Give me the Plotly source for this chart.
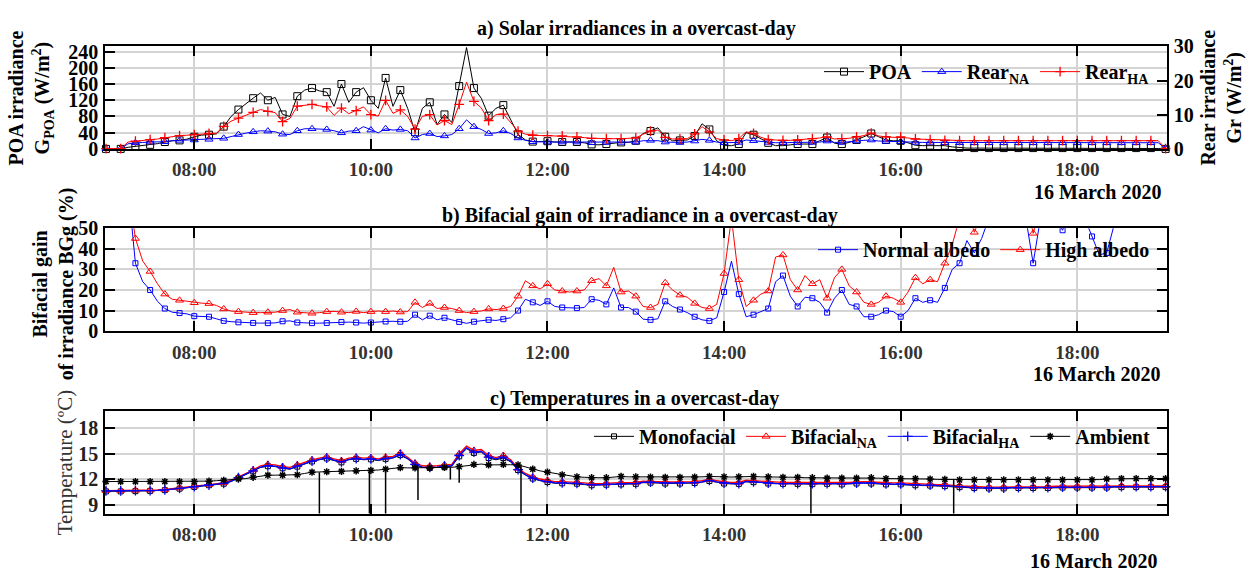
import pandas as pd
import plotly.graph_objects as go

# ---------------- data (5-min samples, 07:00 .. 19:00, 16 March 2020) ----------------
times = pd.date_range("2020-03-16 07:00", "2020-03-16 19:00", freq="5min")

poa = [0, 0, 0, 4, 6, 8, 10, 13, 17, 20, 21, 24,
       30, 34, 35, 37, 55, 80, 97, 112, 125, 138, 120, 127,
       85, 80, 130, 145, 150, 143, 140, 105, 160, 115, 140, 151,
       120, 100, 175, 105, 145, 100, 41, 100, 115, 60, 85, 65,
       155, 250, 150, 125, 82, 100, 108, 72, 36, 22, 18, 18,
       19, 17, 17, 17, 17, 15, 11, 10, 12, 15, 16, 16,
       20, 38, 44, 52, 30, 20, 21, 22, 32, 62, 48, 20,
       8, 8, 12, 40, 35, 24, 15, 8, 8, 10, 12, 12,
       12, 20, 28, 14, 12, 16, 22, 30, 38, 30, 22, 20,
       20, 15, 9, 8, 8, 9, 8, 5, 3, 2, 2, 2,
       2, 2, 2, 2, 2, 2, 2, 2, 2, 2, 2, 2,
       2, 2, 2, 2, 2, 2, 2, 2, 2, 2, 2, 1,
       0]

rear_na = [0.1, 0.1, 0.1, 1.5, 1.8, 1.9, 2.0, 2.0, 2.1, 2.4, 2.5, 2.5,
           2.6, 2.7, 2.8, 2.8, 3.1, 3.6, 4.2, 4.6, 5.0, 5.3, 5.2, 5.0,
           4.3, 4.2, 5.3, 5.9, 5.9, 5.9, 5.7, 5.3, 4.7, 5.2, 5.3, 6.5,
           5.5, 4.7, 5.9, 5.5, 5.7, 5.3, 3.2, 4.2, 4.5, 3.6, 3.8, 4.2,
           5.9, 8.5, 6.5, 5.7, 4.5, 4.7, 5.3, 4.5, 3.2, 2.5, 2.1, 2.0,
           2.0, 2.0, 2.0, 2.0, 2.0, 1.9, 1.8, 1.8, 1.9, 1.9, 1.9, 1.9,
           2.0, 2.4, 2.5, 2.4, 2.0, 1.9, 1.9, 2.0, 2.3, 2.8, 2.5, 2.0,
           1.8, 1.8, 1.9, 2.6, 2.4, 2.1, 1.9, 1.8, 1.8, 1.8, 1.8, 1.8,
           1.9, 2.0, 2.3, 1.9, 1.9, 2.0, 2.3, 2.5, 2.6, 2.3, 2.2, 2.1,
           2.1, 2.0, 1.9, 1.9, 1.9, 1.9, 1.8, 1.8, 1.8, 1.8, 1.8, 1.8,
           1.8, 1.8, 1.8, 1.8, 1.8, 1.8, 1.8, 1.8, 1.8, 1.8, 1.8, 1.8,
           1.8, 1.8, 1.8, 1.8, 1.8, 1.8, 1.8, 1.8, 1.8, 1.8, 1.8, 1.8,
           0.1]

rear_ha = [0.1, 0.1, 0.1, 2.0, 2.3, 2.5, 2.7, 2.9, 3.3, 3.7, 3.9, 4.0,
           4.2, 4.4, 4.5, 4.6, 6.6, 8.1, 9.0, 9.8, 10.7, 11.5, 11.0, 10.6,
           8.0, 8.9, 12.5, 12.7, 13.0, 12.6, 12.3, 9.8, 11.9, 10.3, 11.2, 12.3,
           10.0, 9.6, 14.2, 10.4, 11.4, 9.5, 5.8, 9.5, 10.0, 7.0, 8.3, 7.1,
           13.0, 19.5, 13.9, 12.0, 8.3, 10.0, 10.2, 7.7, 5.2, 4.3, 4.0, 3.9,
           3.9, 3.8, 3.8, 3.7, 3.5, 3.3, 3.1, 3.0, 3.0, 3.0, 3.0, 3.0,
           3.2, 4.3, 5.2, 5.5, 3.4, 2.9, 2.9, 3.0, 4.4, 6.5, 5.0, 3.0,
           2.6, 2.4, 3.0, 5.0, 4.5, 3.4, 2.7, 2.5, 2.5, 2.5, 2.6, 2.8,
           3.0, 3.2, 3.5, 2.9, 3.0, 3.1, 3.5, 3.9, 4.6, 3.8, 3.5, 3.4,
           3.5, 3.2, 2.9, 2.8, 2.7, 2.6, 2.5, 2.4, 2.4, 2.4, 2.4, 2.4,
           2.4, 2.4, 2.4, 2.4, 2.4, 2.4, 2.4, 2.4, 2.4, 2.4, 2.4, 2.4,
           2.4, 2.4, 2.4, 2.4, 2.4, 2.4, 2.4, 2.4, 2.4, 2.4, 2.4, 2.4,
           0.1]

bg_normal = [None, None, None, 70, 33, 24, 20, 14.5, 11, 9.2, 8.8, 8.4,
             7.3, 7.1, 7.0, 6.0, 5.0, 4.6, 4.3, 4.0, 4.0, 3.9, 3.9, 4.0,
             4.8, 5.0, 4.2, 3.9, 3.9, 3.9, 4.0, 4.3, 4.4, 4.4, 4.2, 3.9,
             4.2, 4.6, 4.7, 4.8, 4.6, 4.8, 8.0, 5.5, 7.5, 5.5, 6.5, 5.5,
             4.5, 3.8, 4.6, 5.0, 5.5, 5.2, 5.8, 6.5, 10.0, 15.5, 14.0, 12.5,
             14.5, 12.0, 11.5, 11.2, 11.2, 11.5, 15.5, 15.0, 13.0, 21.0, 11.5, 11.5,
             9.5, 5.8, 5.5, 6.0, 14.5, 12.0, 10.5, 9.0, 7.0, 5.5, 5.0, 6.5,
             19.0, 34.0, 18.0, 7.0, 8.0, 9.5, 11.0, 24.0, 27.0, 17.0, 12.0, 16.5,
             16, 14, 9, 16, 20, 13, 12, 7, 7, 8, 10, 9.5,
             7, 10, 16, 14, 15, 14, 21, 30, 33, 44, 38, 45,
             55, 60, 52, 60, 62, 55, 33, 55, 60, 55, 49, 58,
             62, 55, 46, 37, 38, 55, 65, 70, 65, 70, 72, 70,
             70]

bg_high = [None, None, None, 70, 45, 34, 29, 23, 18, 15.5, 15, 14.5,
           13.8, 13.6, 13.4, 12.5, 10.8, 9.8, 9.5, 9.2, 9.0, 9.0, 9.2, 9.2,
           10.0, 10.5, 9.2, 8.8, 8.7, 9.0, 9.5, 9.6, 9.2, 9.0, 9.6, 9.0,
           9.5, 9.8, 9.5, 9.8, 9.3, 9.5, 14.0, 11.5, 13.5, 11.0, 11.5, 11.0,
           10.0, 9.0, 9.5, 9.8, 10.8, 10.5, 11.0, 12.0, 17.0, 24.5, 22.0, 20.5,
           23.0, 20.0, 19.5, 19.0, 19.5, 20.0, 24.5, 25.5, 22.0, 31.0, 19.0, 19.5,
           17.0, 12.0, 11.5, 13.0, 23.5, 20.0, 17.5, 16.5, 13.5, 11.5, 11.0, 13.0,
           28.0, 55.0, 25.0, 12.0, 15.0, 18.0, 19.5, 36.0, 37.0, 25.0, 20.0, 27.0,
           23, 25, 16, 26, 30, 22, 19, 14, 13, 14, 17, 16,
           14, 19, 26, 23, 25, 24, 33, 42, 55, 60, 48, 58,
           65, 70, 62, 68, 72, 65, 47.5, 60, 68, 65, 60, 66,
           70, 65, 58, 55, 56, 65, 75, 80, 75, 80, 82, 80,
           80]

t_bif_na = [10.7, 10.7, 10.7, 10.72, 10.72, 10.75, 10.75, 10.78, 10.82, 10.9, 11.0, 11.1,
            11.2, 11.3, 11.4, 11.5, 11.6, 11.9, 12.3, 12.7, 13.1, 13.6, 13.75, 13.7,
            13.5, 13.4, 13.7, 14.0, 14.3, 14.5, 14.65, 14.4, 14.2, 14.5, 14.6, 14.5,
            14.55, 14.4, 14.6, 14.7, 15.1, 14.6, 13.9, 13.6, 13.55, 13.6, 13.7, 13.75,
            15.0, 15.9, 15.4, 15.5, 14.8, 14.55, 14.8, 14.3, 13.3, 12.7, 12.3, 12.05,
            11.9, 11.75, 11.75, 11.72, 11.7, 11.6, 11.5, 11.5, 11.55, 11.6, 11.6, 11.62,
            11.65, 11.8, 11.8, 11.75, 11.7, 11.7, 11.7, 11.7, 11.75, 11.85, 12.0, 11.85,
            11.7, 11.65, 11.65, 11.9, 11.85, 11.75, 11.7, 11.65, 11.65, 11.65, 11.65, 11.63,
            11.63, 11.65, 11.65, 11.6, 11.6, 11.65, 11.7, 11.75, 11.7, 11.65, 11.6, 11.6,
            11.6, 11.55, 11.5, 11.45, 11.45, 11.4, 11.4, 11.3, 11.25, 11.2, 11.15, 11.12,
            11.1, 11.1, 11.1, 11.15, 11.15, 11.15, 11.15, 11.15, 11.15, 11.2, 11.2, 11.2,
            11.2, 11.2, 11.2, 11.2, 11.2, 11.25, 11.25, 11.25, 11.25, 11.25, 11.25, 11.25,
            11.25]

t_bif_ha = [10.65, 10.65, 10.65, 10.68, 10.68, 10.7, 10.7, 10.73, 10.78, 10.85, 10.95, 11.05,
            11.15, 11.25, 11.35, 11.45, 11.55, 11.8, 12.2, 12.6, 13.0, 13.45, 13.6, 13.55,
            13.35, 13.25, 13.55, 13.85, 14.15, 14.35, 14.5, 14.25, 14.05, 14.35, 14.45, 14.35,
            14.4, 14.25, 14.45, 14.55, 14.9, 14.45, 13.75, 13.45, 13.4, 13.45, 13.55, 13.6,
            14.8, 15.7, 15.2, 15.3, 14.6, 14.4, 14.6, 14.15, 13.15, 12.55, 12.15, 11.9,
            11.75, 11.6, 11.6, 11.58, 11.55, 11.45, 11.38, 11.38, 11.42, 11.48, 11.48, 11.5,
            11.52, 11.68, 11.68, 11.62, 11.58, 11.58, 11.58, 11.58, 11.62, 11.72, 11.88, 11.72,
            11.58, 11.52, 11.52, 11.78, 11.72, 11.62, 11.58, 11.52, 11.52, 11.52, 11.52, 11.5,
            11.5, 11.52, 11.52, 11.48, 11.48, 11.52, 11.58, 11.62, 11.58, 11.52, 11.48, 11.48,
            11.48, 11.42, 11.38, 11.33, 11.33, 11.28, 11.28, 11.2, 11.15, 11.1, 11.05, 11.03,
            11.0, 11.0, 11.0, 11.05, 11.05, 11.05, 11.05, 11.05, 11.05, 11.1, 11.1, 11.1,
            11.1, 11.1, 11.1, 11.1, 11.1, 11.15, 11.15, 11.15, 11.15, 11.15, 11.15, 11.15,
            11.15]

t_mono = [10.6, 10.6, 10.6, 10.62, 10.63, 10.65, 10.66, 10.7, 10.75, 10.82, 10.92, 11.02,
          11.12, 11.22, 11.32, 11.42, 11.5, 11.75, 12.15, 12.55, 12.95, 13.4, 13.55, 13.5,
          13.3, 13.2, 13.5, 13.8, 14.1, 14.3, 14.45, 14.2, 14.0, 14.3, 14.4, 14.3,
          14.35, 14.2, 14.4, 14.5, 14.85, 14.4, 13.7, 13.4, 13.35, 13.4, 13.5, 13.55,
          14.7, 15.6, 15.1, 15.2, 14.5, 14.3, 14.5, 14.05, 13.1, 12.5, 12.1, 11.85,
          11.7, 11.55, 11.55, 11.52, 11.5, 11.4, 11.32, 11.32, 11.38, 11.42, 11.42, 11.45,
          11.48, 11.62, 11.62, 11.58, 11.52, 11.52, 11.52, 11.52, 11.58, 11.68, 11.82, 11.68,
          11.52, 11.48, 11.48, 11.72, 11.68, 11.58, 11.52, 11.48, 11.48, 11.48, 11.48, 11.45,
          11.45, 11.48, 11.48, 11.42, 11.42, 11.48, 11.52, 11.58, 11.52, 11.48, 11.42, 11.42,
          11.42, 11.38, 11.32, 11.28, 11.28, 11.22, 11.22, 11.15, 11.1, 11.05, 11.0, 10.98,
          10.95, 10.95, 10.95, 11.0, 11.0, 11.0, 11.0, 11.0, 11.0, 11.05, 11.05, 11.05,
          11.05, 11.05, 11.05, 11.05, 11.05, 11.1, 11.1, 11.1, 11.1, 11.1, 11.1, 11.1,
          11.1]

t_amb = [11.75, 11.75, 11.75, 11.75, 11.75, 11.75, 11.75, 11.75, 11.75, 11.75, 11.75, 11.75,
         11.75, 11.78, 11.8, 11.85, 11.9, 12.0, 12.05, 12.1, 12.25, 12.4, 12.5, 12.5,
         12.5, 12.5, 12.55, 12.7, 12.85, 12.88, 12.9, 12.92, 12.95, 12.98, 13.0, 13.02,
         13.05, 13.1, 13.2, 13.3, 13.38, 13.35, 13.35, 13.35, 13.35, 13.38, 13.4, 13.42,
         13.5, 13.6, 13.75, 13.8, 13.7, 13.72, 13.75, 13.72, 13.7, 13.45, 13.2, 13.0,
         12.85, 12.7, 12.55, 12.4, 12.3, 12.25, 12.2, 12.2, 12.2, 12.3, 12.35, 12.3,
         12.3, 12.28, 12.28, 12.25, 12.25, 12.25, 12.25, 12.25, 12.28, 12.3, 12.35, 12.3,
         12.3, 12.28, 12.3, 12.35, 12.35, 12.3, 12.3, 12.25, 12.25, 12.25, 12.25, 12.2,
         12.2, 12.2, 12.15, 12.15, 12.15, 12.15, 12.15, 12.2, 12.2, 12.15, 12.1, 12.1,
         12.1, 12.1, 12.1, 12.05, 12.05, 12.0, 12.0, 11.95, 11.95, 11.95, 11.95, 11.95,
         11.95, 11.95, 11.95, 11.95, 11.95, 11.95, 11.95, 11.95, 11.95, 11.95, 11.95, 11.95,
         11.95, 11.95, 11.95, 11.98, 12.05, 12.08, 12.1, 12.1, 12.1, 12.1, 12.1, 12.1,
         12.1]

# short sensor drop-outs of the ambient sensor
amb_drop_times = ["09:25", "09:59", "10:10", "10:32", "10:54", "11:00", "11:42", "14:59", "16:36"]
amb_drop_top = [12.85, 13.05, 13.2, 13.35, 13.4, 13.45, 13.6, 12.2, 11.95]
amb_drop_low = [6.0, 6.0, 6.0, 9.6, 12.0, 11.6, 6.0, 6.0, 6.0]

tick_labels = ["08:00", "10:00", "12:00", "14:00", "16:00", "18:00"]

for arr in (poa, rear_na, rear_ha, bg_normal, bg_high, t_bif_na, t_bif_ha, t_mono, t_amb):
    assert len(arr) == len(times), len(arr)

# ---------------- figure ----------------
W, H = 1247, 584
FONT = "Liberation Serif"
GRID = "#d4d4d4"
X0, X1 = "2020-03-16 06:59:20", "2020-03-16 19:00:57"
tick_vals = ["2020-03-16 " + t for t in tick_labels]


def px(x):
    return x / W


def py(y):
    return 1 - y / H


fig = go.Figure()
tlist = list(times)


def add_series(y, color, symbol, size, xa, ya, lw=1.0, mlw=1.0, clip=False):
    fig.add_trace(go.Scatter(x=tlist, y=y, mode="lines", line=dict(color=color, width=lw),
                             xaxis=xa, yaxis=ya, showlegend=False, hoverinfo="skip"))
    fig.add_trace(go.Scatter(x=tlist[::2], y=y[::2], mode="markers", cliponaxis=clip,
                             marker=dict(symbol=symbol, size=size, color=color,
                                         line=dict(color=color, width=mlw)),
                             xaxis=xa, yaxis=ya, showlegend=False, hoverinfo="skip"))


def add_legend(name, color, symbol, size, xa, ya, legend, lw=1.0, mlw=1.0):
    fig.add_trace(go.Scatter(x=[None], y=[None], mode="lines+markers", name=name,
                             line=dict(color=color, width=lw),
                             marker=dict(symbol=symbol, size=size, color=color,
                                         line=dict(color=color, width=mlw)),
                             xaxis=xa, yaxis=ya, legend=legend))


# panel a
add_series(poa, "black", "square-open", 7, "x", "y")
add_series(rear_na, "blue", "triangle-up-open", 7, "x", "y2")
add_series(rear_ha, "red", "cross-thin", 7, "x", "y2", mlw=1.3)
add_legend("POA", "black", "square-open", 7, "x", "y", "legend")
add_legend("Rear<sub>NA</sub>", "blue", "triangle-up-open", 7, "x", "y2", "legend")
add_legend("Rear<sub>HA</sub>", "red", "cross-thin", 7, "x", "y2", "legend", mlw=1.3)

# panel b
add_series(bg_normal, "blue", "square-open", 5, "x2", "y3", clip=True)
add_series(bg_high, "red", "triangle-up-open", 7, "x2", "y3", clip=True)
add_legend("Normal albedo", "blue", "square-open", 5, "x2", "y3", "legend2")
add_legend("High albedo", "red", "triangle-up-open", 7, "x2", "y3", "legend2")

# panel c
add_series(t_mono, "black", "square-open", 5, "x3", "y4")
add_series(t_bif_na, "red", "triangle-up-open", 7, "x3", "y4", lw=1.3)
add_series(t_bif_ha, "blue", "cross-thin", 7, "x3", "y4", lw=1.3, mlw=1.3)
add_series(t_amb, "black", "asterisk", 6, "x3", "y4", mlw=1.5)
drop_x, drop_y = [], []
for t, top, low in zip(amb_drop_times, amb_drop_top, amb_drop_low):
    drop_x += ["2020-03-16 " + t, "2020-03-16 " + t, None]
    drop_y += [top, low, None]
fig.add_trace(go.Scatter(x=drop_x, y=drop_y, mode="lines", line=dict(color="black", width=1.5),
                         xaxis="x3", yaxis="y4", showlegend=False, hoverinfo="skip"))
add_legend("Monofacial", "black", "square-open", 5, "x3", "y4", "legend3")
add_legend("Bifacial<sub>NA</sub>", "red", "triangle-up-open", 7, "x3", "y4", "legend3")
add_legend("Bifacial<sub>HA</sub>", "blue", "cross-thin", 7, "x3", "y4", "legend3", mlw=1.3)
add_legend("Ambient", "black", "asterisk", 6, "x3", "y4", "legend3", mlw=1.5)

xdom = [px(105), px(1167)]
dom_a = [py(143.3), py(36.7)]
dom_b = [py(332.7), py(225.7)]
dom_c = [py(522.3), py(415.7)]

xcommon = dict(type="date", range=[X0, X1], tickvals=tick_vals, ticktext=tick_labels,
               showgrid=True, gridcolor=GRID, gridwidth=1.5, showline=True, linecolor="black",
               linewidth=1.5, mirror="ticks", ticks="inside", ticklen=10, tickwidth=1.5,
               tickcolor="black", zeroline=False, domain=xdom, ticklabelstandoff=3,
               tickfont=dict(family=FONT, size=19, color="#333333", weight="bold"))
ycommon = dict(showgrid=True, gridcolor=GRID, gridwidth=1.5, showline=True, linecolor="black",
               linewidth=1.5, ticks="inside", ticklen=10, tickwidth=1.5, tickcolor="black",
               zeroline=False, ticklabelstandoff=1,
               tickfont=dict(family=FONT, size=20, color="black", weight="bold"))

fig.update_layout(
    width=W, height=H, autosize=False,
    margin=dict(l=0, r=0, t=0, b=0),
    paper_bgcolor="white", plot_bgcolor="white",
    font=dict(family=FONT, color="black"),
    xaxis=dict(anchor="y", **xcommon),
    xaxis2=dict(anchor="y3", **xcommon),
    xaxis3=dict(anchor="y4", **xcommon),
    yaxis=dict(domain=dom_a, anchor="x", range=[0, 253], tickvals=[0, 40, 80, 120, 160, 200, 240],
               mirror=True, **ycommon),
    yaxis2=dict(overlaying="y", side="right", anchor="x", range=[0, 30], tickvals=[0, 10, 20, 30],
                showgrid=False, showline=True, linecolor="black", linewidth=1.5, ticks="inside",
                ticklen=10, tickwidth=1.5, tickcolor="black", zeroline=False, ticklabelstandoff=1,
                tickfont=dict(family=FONT, size=20, color="black", weight="bold")),
    yaxis3=dict(domain=dom_b, anchor="x2", range=[0, 50], tickvals=[0, 10, 20, 30, 40, 50],
                mirror="ticks", **ycommon),
    yaxis4=dict(domain=dom_c, anchor="x3", range=[8, 20], tickvals=[9, 12, 15, 18],
                mirror="ticks", **{**ycommon, "tickfont": dict(family=FONT, size=20, color="#222222", weight="bold")}),
)

legfont = dict(family=FONT, size=20, color="black", weight="bold")
fig.update_layout(
    legend=dict(x=px(1155), xanchor="right", y=py(63), yanchor="middle", orientation="h",
                bgcolor="rgba(0,0,0,0)", font=legfont, itemwidth=40),
    legend2=dict(x=px(1155), xanchor="right", y=py(248), yanchor="middle", orientation="h",
                 bgcolor="rgba(0,0,0,0)", font=legfont, itemwidth=40),
    legend3=dict(x=px(1155), xanchor="right", y=py(442), yanchor="middle", orientation="h",
                 bgcolor="rgba(0,0,0,0)", font=legfont, itemwidth=40),
)

ann = []


def add_text(text, x, y, size=20, weight="bold", angle=0, color="black"):
    ann.append(dict(text=text, x=px(x), y=py(y), xref="paper", yref="paper", showarrow=False,
                    xanchor="center", yanchor="middle", textangle=angle,
                    font=dict(family=FONT, size=size, color=color, weight=weight)))


add_text("a) Solar irradiances in a overcast-day", 636, 18)
add_text("b) Bifacial gain of irradiance in a overcast-day", 640, 212)
add_text("c) Temperatures in a overcast-day", 635, 403)
add_text("16 March 2020", 1097, 188)
add_text("16 March 2020", 1096, 377)
add_text("16 March 2020", 1093, 572)
add_text("POA irradiance<br>G<sub>POA</sub> (W/m<sup>2</sup>)", 31, 91, angle=-90)
add_text("Rear irradiance<br>Gr (W/m<sup>2</sup>)", 1222, 90, angle=-90)
add_text("Bifacial gain<br>of irradiance BGg (%)", 53, 284, angle=-90)
add_text("Temperature (ºC)", 65, 469, size=21, weight="normal", angle=-90, color="#333333")
fig.update_layout(annotations=ann)

fig.write_html("out.html")
